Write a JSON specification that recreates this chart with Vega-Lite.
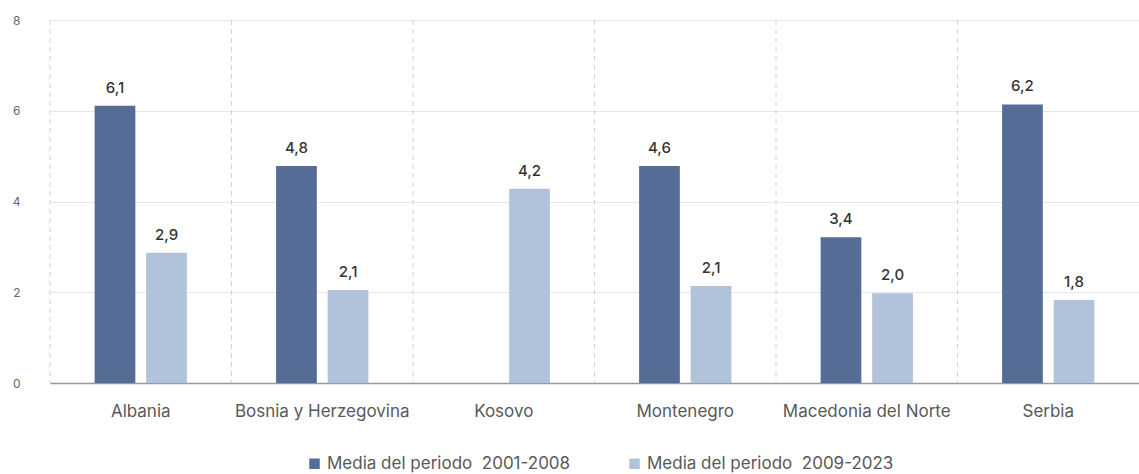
{
  "$schema": "https://vega.github.io/schema/vega-lite/v6.json",
  "width": 1089,
  "height": 363,
  "autosize": {"type": "none"},
  "padding": {"left": 50, "top": 20, "right": 0, "bottom": 91},
  "background": "white",
  "config": {
    "view": {"stroke": null},
    "font": "Inter"
  },
  "datasets": {
    "countries": [
      {"country": "Albania"},
      {"country": "Bosnia y Herzegovina"},
      {"country": "Kosovo"},
      {"country": "Montenegro"},
      {"country": "Macedonia del Norte"},
      {"country": "Serbia"}
    ],
    "bars": [
      {"country": "Albania", "period": "Media del periodo\u00a0 2001-2008", "value": 6.11, "label": "6,1"},
      {"country": "Albania", "period": "Media del periodo\u00a0 2009-2023", "value": 2.87, "label": "2,9"},
      {"country": "Bosnia y Herzegovina", "period": "Media del periodo\u00a0 2001-2008", "value": 4.78, "label": "4,8"},
      {"country": "Bosnia y Herzegovina", "period": "Media del periodo\u00a0 2009-2023", "value": 2.05, "label": "2,1"},
      {"country": "Kosovo", "period": "Media del periodo\u00a0 2009-2023", "value": 4.28, "label": "4,2"},
      {"country": "Montenegro", "period": "Media del periodo\u00a0 2001-2008", "value": 4.78, "label": "4,6"},
      {"country": "Montenegro", "period": "Media del periodo\u00a0 2009-2023", "value": 2.14, "label": "2,1"},
      {"country": "Macedonia del Norte", "period": "Media del periodo\u00a0 2001-2008", "value": 3.21, "label": "3,4"},
      {"country": "Macedonia del Norte", "period": "Media del periodo\u00a0 2009-2023", "value": 1.98, "label": "2,0"},
      {"country": "Serbia", "period": "Media del periodo\u00a0 2001-2008", "value": 6.14, "label": "6,2"},
      {"country": "Serbia", "period": "Media del periodo\u00a0 2009-2023", "value": 1.83, "label": "1,8"}
    ]
  },
  "layer": [
    {
      "data": {"name": "bars"},
      "encoding": {
        "x": {
          "field": "country", "type": "nominal", "sort": null,
          "scale": {"paddingInner": 0, "paddingOuter": 0},
          "axis": {
            "title": null, "labelAngle": 0, "labelFontSize": 17, "labelColor": "#595959",
            "labelPadding": 20, "ticks": false, "domain": true, "domainColor": "#9a9a9a",
            "domainWidth": 1.5, "grid": false, "bandPosition": 0.5, "labelAlign": "center"
          }
        },
        "xOffset": {
          "field": "period", "type": "nominal",
          "scale": {
            "domain": ["Media del periodo\u00a0 2001-2008", "Media del periodo\u00a0 2009-2023"],
            "paddingInner": 0.21, "paddingOuter": 0.865
          }
        },
        "y": {
          "field": "value", "type": "quantitative",
          "scale": {"domain": [0, 8], "nice": false},
          "axis": {
            "title": null, "values": [0, 2, 4, 6, 8], "domain": false, "ticks": false,
            "labelFontSize": 12, "labelColor": "#666666", "labelPadding": 30,
            "gridColor": "#e6e6e6", "gridWidth": 1
          }
        }
      },
      "layer": [
        {
          "mark": {"type": "bar"},
          "encoding": {
            "color": {
              "field": "period", "type": "nominal",
              "scale": {
                "domain": ["Media del periodo\u00a0 2001-2008", "Media del periodo\u00a0 2009-2023"],
                "range": ["#546c96", "#b1c3da"]
              },
              "legend": {
                "title": null, "orient": "none", "direction": "horizontal",
                "legendX": 256, "legendY": 435, "symbolType": "square", "symbolSize": 110,
                "symbolStrokeWidth": 0, "labelFontSize": 17, "labelColor": "#595959",
                "columnPadding": 55, "labelLimit": 400, "labelOffset": 4
              }
            }
          }
        },
        {
          "mark": {"type": "text", "baseline": "bottom", "dy": -10, "fontSize": 15, "color": "#333333", "fontWeight": 500},
          "encoding": {"text": {"field": "label", "type": "nominal"}}
        }
      ]
    },
    {
      "data": {"name": "countries"},
      "mark": {"type": "rule", "strokeDash": [5, 4], "color": "#d2d2d2", "strokeWidth": 1},
      "encoding": {
        "x": {
          "field": "country", "type": "nominal", "sort": null, "bandPosition": 0,
          "scale": {"paddingInner": 0, "paddingOuter": 0},
          "axis": {
            "title": null, "labelAngle": 0, "labelFontSize": 17, "labelColor": "#595959",
            "labelPadding": 20, "ticks": false, "domain": true, "domainColor": "#9a9a9a",
            "domainWidth": 1.5, "grid": false, "bandPosition": 0.5, "labelAlign": "center"
          }
        }
      }
    }
  ]
}
